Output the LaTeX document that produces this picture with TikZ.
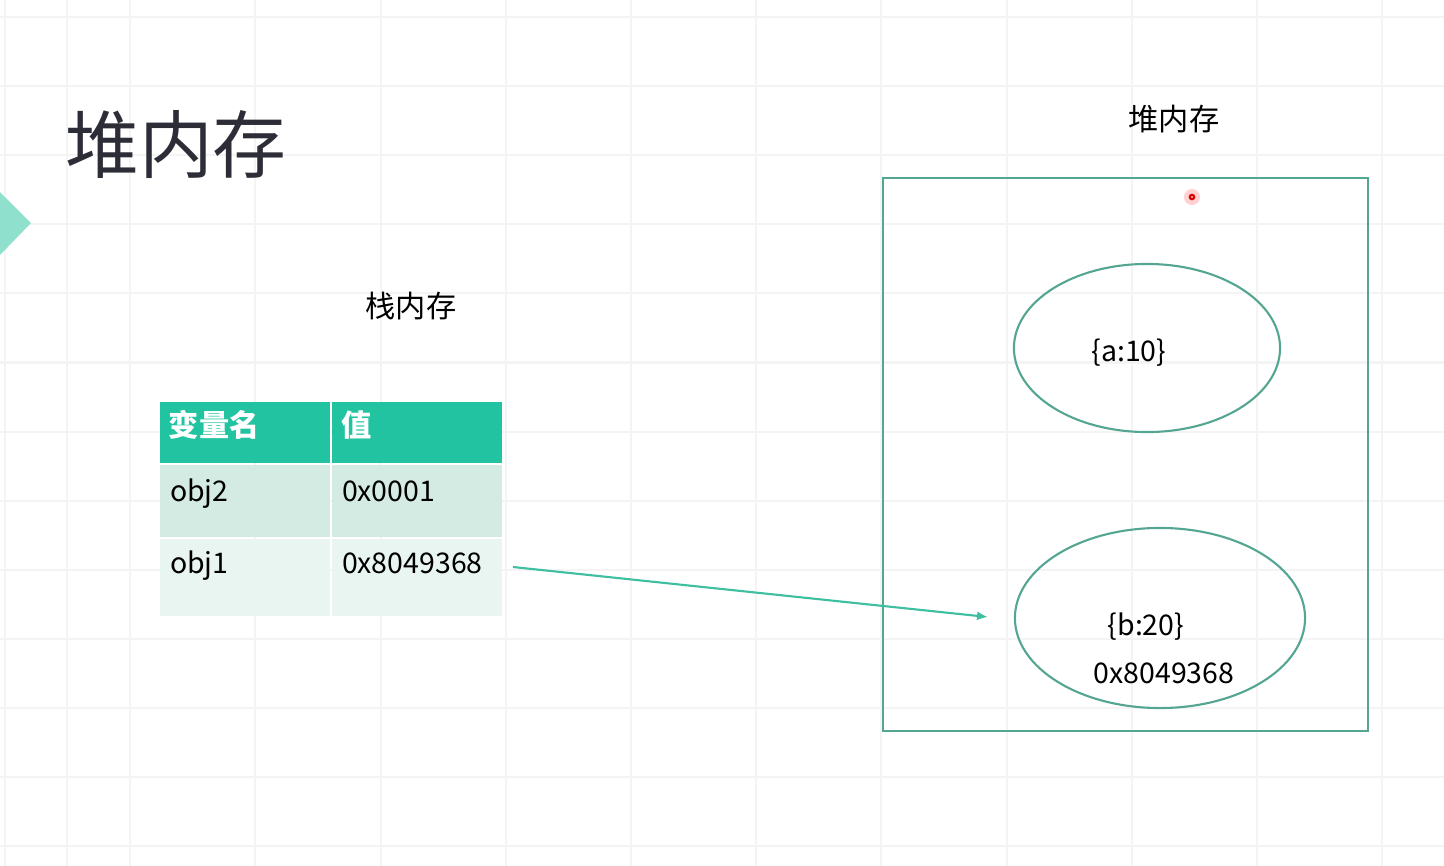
\documentclass[tikz,border=0pt]{standalone}
\usepackage{fontspec}
\setmainfont{Noto Sans CJK SC}
\usepackage{tikz}
\usetikzlibrary{positioning}
\usetikzlibrary{shapes.geometric}
\usetikzlibrary{arrows.meta}

\definecolor{gridline}{HTML}{F4F4F4}
\definecolor{headteal}{HTML}{22C3A0}
\definecolor{rowone}{HTML}{D3EBE2}
\definecolor{rowtwo}{HTML}{E9F5F1}
\definecolor{heapline}{HTML}{55A593}
\definecolor{pointer}{HTML}{3DBFA0}
\definecolor{tabmark}{HTML}{8FE0CC}
\definecolor{ink}{HTML}{2D2D38}

\begin{document}
\begin{tikzpicture}[x=0.01cm, y=-0.01cm,
    every node/.style={inner sep=0pt, outer sep=0pt},
    cell/.style={anchor=north west, minimum width=1.7cm},
    celltext/.style={anchor=base west, font=\fontsize{8.1pt}{10pt}\selectfont},
    heap/.style={ellipse, draw=heapline, line width=0.6pt}]
          \useasboundingbox (0,0) rectangle (1444,866);
          \fill[white] (0,0) rectangle (1444,866);
          \foreach \gx in {5,130.2,255.4,380.6,505.8,631,756.2,881.4,1006.6,1131.8,1257,1382.2}
            \draw[gridline, line width=0.6pt] (\gx,0) -- (\gx,866);
          \draw[gridline, line width=0.6pt] (67,0) -- (67,866);
          \foreach \gy in {17,86.1,155.2,224.3,293.4,362.5,431.6,500.7,569.8,638.9,708,777.1,846.2}
            \draw[gridline, line width=0.6pt] (0,\gy) -- (1444,\gy);

          \fill[tabmark] (0,192) -- (31,223) -- (0,255) -- cycle;
          \node[text=ink, font=\fontsize{21pt}{24pt}\selectfont] (title) at (176,145) {堆内存};

          \node[font=\fontsize{8.6pt}{10pt}\selectfont] (stacktitle) at (411,306) {栈内存};
          \node[font=\fontsize{8.6pt}{10pt}\selectfont] (heaptitle) at (1174,119) {堆内存};

          \node[cell, fill=headteal, minimum height=0.61cm] (hname) at (160,402) {};
          \node[cell, fill=headteal, minimum height=0.61cm] (hval) at (332,402) {};
          \node[cell, fill=rowone, minimum height=0.72cm] (name2) at (160,465) {};
          \node[cell, fill=rowone, minimum height=0.72cm] (val2) at (332,465) {};
          \node[cell, fill=rowtwo, minimum height=0.77cm] (name1) at (160,539) {};
          \node[cell, fill=rowtwo, minimum height=0.77cm] (val1) at (332,539) {};

          \node[celltext, text=white, font=\fontsize{8.6pt}{10pt}\selectfont\bfseries] (hnametext) at (169,436) {变量名};
          \node[celltext, text=white, font=\fontsize{8.6pt}{10pt}\selectfont\bfseries] (hvaltext) at (341,436) {值};
          \node[celltext] (obj2) at (170,501) {obj2};
          \node[celltext] (addr2) at (342,501) {0x0001};
          \node[celltext] (obj1) at (170,573) {obj1};
          \node[celltext] (addr1) at (342,573) {0x8049368};

          \draw[heapline, line width=0.75pt] (883,178) rectangle (1368,731);
          \node[heap, minimum width=2.66cm, minimum height=1.68cm] (objA) at (1147,348) {};
          \node[heap, minimum width=2.9cm, minimum height=1.8cm] (objB) at (1160,618) {};
          \node[celltext, anchor=center] (avalue) at (1129,353) {\{a:10\}};
          \node[celltext, anchor=center] (bvalue) at (1146,627) {\{b:20\}};
          \node[celltext, anchor=center] (baddr) at (1164,673) {0x8049368};

          \coordinate (src) at (513,567);
          \coordinate (dst) at (988,617);
          \draw[pointer, line width=0.6pt, -{Latex[length=0.11cm, width=0.09cm]}] (src) -- (dst);

          \fill[red!18] (1192,197) circle (0.08cm);
          \draw[red!85!black, line width=0.6pt] (1192,197) circle (0.022cm);
        \end{tikzpicture}
\end{document}
